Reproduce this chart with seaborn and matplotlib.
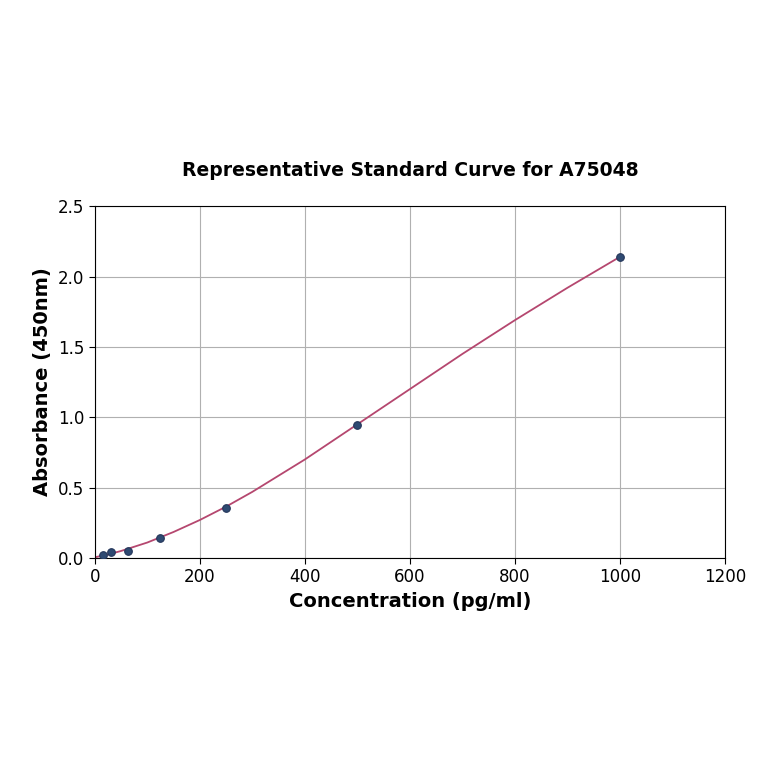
import matplotlib
matplotlib.use("Agg")
import matplotlib.pyplot as plt
import pandas as pd
import seaborn as sns

# standard points (pg/ml, OD 450nm)
conc = [15.625, 31.25, 62.5, 125, 250, 500, 1000]
absorb = [0.02, 0.043, 0.048, 0.143, 0.357, 0.948, 2.14]

# fitted curve
curve_x = [0, 25, 50, 75, 100, 150, 200, 250, 300, 350, 400, 450, 500, 600, 700, 800, 900, 1000]
curve_y = [0.005, 0.025, 0.05, 0.08, 0.11, 0.185, 0.27, 0.365, 0.47, 0.585, 0.70, 0.825, 0.95, 1.20, 1.45, 1.69, 1.92, 2.14]

pts = pd.DataFrame({"conc": conc, "od": absorb})
fit = pd.DataFrame({"conc": curve_x, "od": curve_y})

sns.set_style("ticks")
plt.rcParams["font.family"] = ["DejaVu Sans"]
plt.rcParams["text.color"] = "black"
plt.rcParams["axes.labelcolor"] = "black"
plt.rcParams["xtick.color"] = "black"
plt.rcParams["ytick.color"] = "black"

fig = plt.figure(figsize=(7.64, 7.64), dpi=100)
ax = fig.add_axes([0.124, 0.2696, 0.825, 0.4606])

sns.lineplot(data=fit, x="conc", y="od", color="#b5476f", linewidth=1.3, ax=ax, zorder=2)
sns.scatterplot(data=pts, x="conc", y="od", color="#2e4a72", edgecolor="#24365a",
                s=30, linewidth=0.8, ax=ax, zorder=3)

ax.set_xlim(0, 1200)
ax.set_ylim(0, 2.5)
ax.set_xticks([0, 200, 400, 600, 800, 1000, 1200])
ax.set_yticks([0.0, 0.5, 1.0, 1.5, 2.0, 2.5])
ax.grid(True, color="#b0b0b0", linewidth=0.8)
ax.set_axisbelow(True)
for side in ["top", "right", "left", "bottom"]:
    ax.spines[side].set_visible(True)
    ax.spines[side].set_color("black")
    ax.spines[side].set_linewidth(0.8)
ax.tick_params(labelsize=12, length=4, width=0.8)

ax.set_title("Representative Standard Curve for A75048", fontsize=13.5, fontweight="bold", pad=22)
ax.set_xlabel("Concentration (pg/ml)", fontsize=14, fontweight="bold")
ax.set_ylabel("Absorbance (450nm)", fontsize=14, fontweight="bold")

fig.savefig("out.png", dpi=100)
